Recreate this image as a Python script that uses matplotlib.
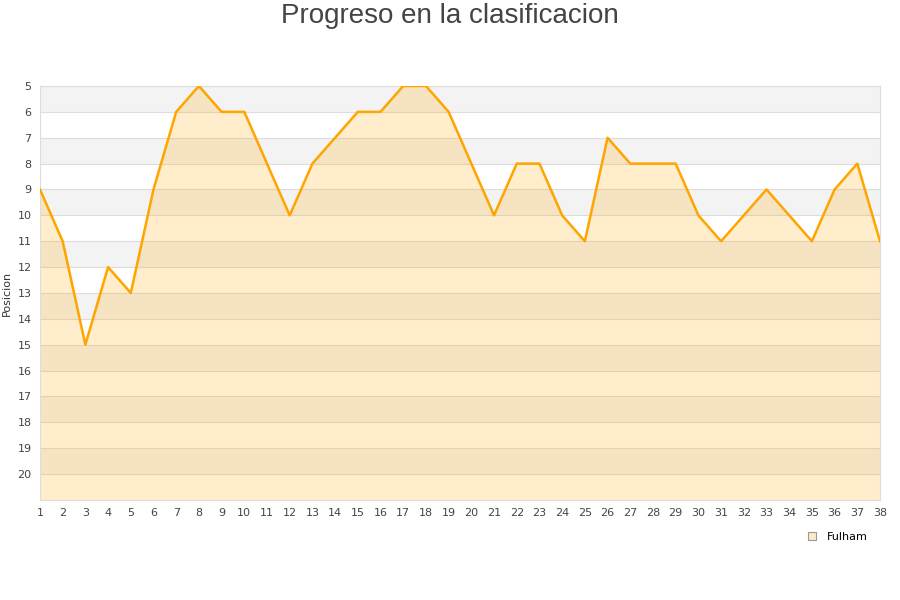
from matplotlib import pyplot as plt
from matplotlib.lines import Line2D

## Jornadas y posicion del equipo
jornadas = list(range(1, 39))
posicion = [9, 11, 15, 12, 13, 9, 6, 5, 6, 6, 8, 10, 8, 7, 6, 6, 5, 5, 6, 8,
            10, 8, 8, 10, 11, 7, 8, 8, 8, 10, 11, 10, 9, 10, 11, 9, 8, 11]
equipo = "Fulham"
titulo = "Progreso en la clasificacion"

fig = plt.figure(figsize=(9, 6), dpi=100)
ax = fig.add_axes([0.0444, 0.1667, 0.9334, 0.69])

## bandas alternas
for y in range(5, 21, 2):
    ax.axhspan(y, y + 1, color="#f3f3f3", zorder=0, lw=0)
for y in range(5, 22):
    ax.axhline(y, color="#dddddd", lw=0.8, zorder=1)

ax.fill_between(jornadas, posicion, 21, color="#ffa500", alpha=0.2, lw=0, zorder=2)
ax.plot(jornadas, posicion, color="#ffa500", lw=1.8, zorder=3)

ax.set_xlim(1, 38)
ax.set_ylim(21, 5)
ax.set_xticks(jornadas)
ax.set_yticks(range(5, 21))
ax.tick_params(length=0, labelsize=8, colors="#444444", pad=6)
for s in ax.spines.values():
    s.set_color("#dddddd")
ax.set_ylabel("Posicion", fontsize=8, color="#333333", labelpad=4)

fig.suptitle(titulo, fontsize=20, color="#444444", y=0.995,
             family="Liberation Sans")

h = Line2D([], [], marker="s", ls="none", markersize=6, markerfacecolor="#fbe9c8",
           markeredgecolor="#999999", markeredgewidth=0.8)
fig.legend([h], [equipo], loc="center right", bbox_to_anchor=(0.975, 0.105),
           frameon=False, fontsize=8, handletextpad=0.3)

plt.savefig("out.png")
